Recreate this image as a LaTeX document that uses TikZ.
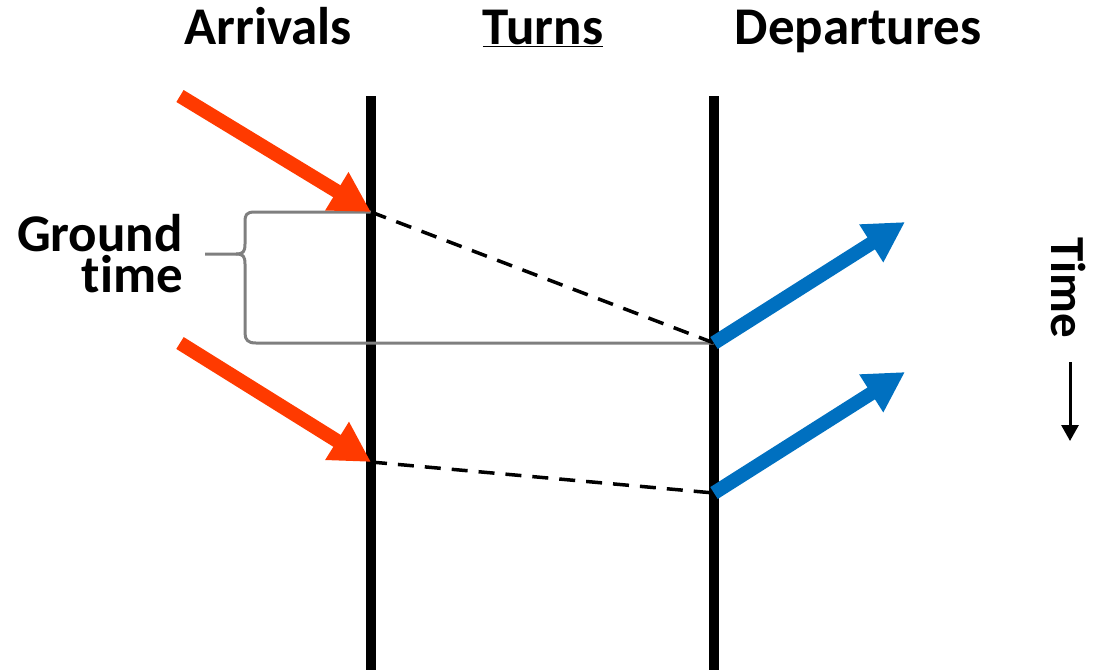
\documentclass[tikz,border=0pt]{standalone}
\usepackage{fontspec}
\setmainfont{Carlito}[Ligatures=NoCommon]
\usetikzlibrary{arrows.meta}
\definecolor{arrred}{HTML}{FF3A00}
\definecolor{depblue}{HTML}{0070C0}
\definecolor{bracegray}{HTML}{7F7F7F}
\begin{document}
\begin{tikzpicture}[x=1pt,y=-1pt,
  header/.style={font=\fontsize{53}{38}\selectfont\bfseries, inner sep=0pt},
  runway/.style={line width=10pt, black},
  arr/.style={line width=14pt, arrred, -{Triangle[length=40pt 0 0,width=42pt 0 0]}},
  dep/.style={line width=14pt, depblue, -{Triangle[length=40pt 0 0,width=42pt 0 0]}},
  turn/.style={line width=3.5pt, dash pattern=on 16pt off 11pt},
  brace/.style={line width=3pt, bracegray, line join=round}]
\path[use as bounding box] (0,0) rectangle (1099,670);
% headers
\node[header, anchor=base] (arrivals) at (268,44) {Arrivals};
\node[header, anchor=base] (turns) at (543,44) {\underline{Turns}};
\node[header, anchor=base] (departures) at (858,44) {Departures};
% runways
\coordinate (atop) at (371,96); \coordinate (abot) at (371,670);
\coordinate (dtop) at (714,96); \coordinate (dbot) at (714,670);
\draw[runway] (atop) -- (abot);
\draw[runway] (dtop) -- (dbot);
% events
\coordinate (a1) at (371,212); \coordinate (a2) at (371,462);
\coordinate (d1) at (714,343); \coordinate (d2) at (714,493);
\coordinate (a1s) at (180,96); \coordinate (a2s) at (180,343);
\coordinate (d1e) at (905,222); \coordinate (d2e) at (905,372);
% brace
\draw[brace] (a1) -- (255,212) .. controls (246,212) and (245,215) .. (245,222)
  -- (245,244) .. controls (245,252) and (243,254) .. (236,254) -- (205,254);
\draw[brace] (236,254) .. controls (243,254) and (245,256) .. (245,264)
  -- (245,333) .. controls (245,340) and (248,343) .. (256,343) -- (d1);
% turn links
\draw[turn] (a1) -- (d1);
\draw[turn] (a2) -- (d2);
% arrows
\draw[arr] (a1s) -- (a1);
\draw[arr] (a2s) -- (a2);
\draw[dep] (d1) -- (d1e);
\draw[dep] (d2) -- (d2e);
% ground time
\node[header, anchor=base east, text depth=0pt] (ground) at (183,251) {Ground};
\node[header, anchor=base east, text height=33pt] (gtime) at (183,292) {time};
% time
\node[font=\fontsize{49}{50}\selectfont\bfseries, inner sep=0pt, rotate=-90] (time) at (1068,288) {Time};
\coordinate (tstart) at (1070,362); \coordinate (tend) at (1070,441);
\draw[line width=3pt, -{Triangle[length=16pt 0 0,width=17pt 0 0]}] (tstart) -- (tend);
\end{tikzpicture}
\end{document}
